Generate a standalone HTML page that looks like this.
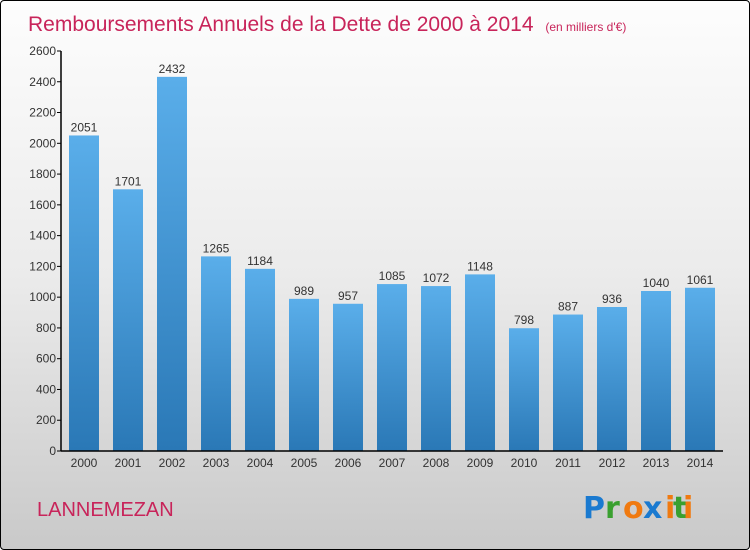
<!DOCTYPE html>
<html><head><meta charset="utf-8"><style>
body{margin:0;}
#wrap{width:750px;height:550px;position:relative;box-sizing:border-box;border:1px solid #000;border-radius:4px;overflow:hidden;background:linear-gradient(#fdfdfd,#ebebeb 50%,#c9c9c9);font-family:"Liberation Sans",sans-serif;}
</style></head><body>
<div id="wrap">
<svg width="750" height="550" style="position:absolute;left:0;top:0" id="svg">
<defs><linearGradient id="bg" x1="0" y1="0" x2="0" y2="1"><stop offset="0" stop-color="#5aaeea"/><stop offset="1" stop-color="#2a78b6"/></linearGradient></defs>
<text x="27" y="30" font-size="21" fill="#c8245a">Remboursements Annuels de la Dette de 2000 à 2014 <tspan font-size="12" dx="6">(en milliers d'€)</tspan></text>
<text x="36" y="515" font-size="20" fill="#c8245a">LANNEMEZAN</text>
<g font-size="30" font-weight="bold" font-family="'DejaVu Sans',sans-serif">
<text x="582" y="517" fill="#1a7ad0">P</text><text x="604" y="517" fill="#3aa030">r</text><text x="622" y="517" fill="#f07a10">o</text><text x="642" y="517" fill="#1a7ad0">x</text><text x="664" y="517" fill="#f07a10">i</text><text x="672" y="517" fill="#3aa030">t</text><text x="682" y="517" fill="#f07a10">i</text>
</g>
<g id="plot"></g>
</svg>
</div>
<script>
const years=["2000","2001","2002","2003","2004","2005","2006","2007","2008","2009","2010","2011","2012","2013","2014"];
const values=[2051,1701,2432,1265,1184,989,957,1085,1072,1148,798,887,936,1040,1061];
const yTicks=[0,200,400,600,800,1000,1200,1400,1600,1800,2000,2200,2400,2600];
const ns="http://www.w3.org/2000/svg";
const g=document.getElementById('plot');
const y0=450,yTop=50,yMax=2600,x0=60,step=44,bw=30,first=83;
const yS=v=>y0-(v/yMax)*(y0-yTop);
const xS=i=>first+i*step;
function mk(t,a){const e=document.createElementNS(ns,t);for(const k in a)e.setAttribute(k,a[k]);g.appendChild(e);return e;}
yTicks.forEach(t=>{
 const l=mk('line',{x1:x0-4,x2:x0,y1:yS(t),y2:yS(t),stroke:'#000'});
 
 
 const tx=mk('text',{x:x0-5,y:yS(t)+4,'font-size':12,fill:'#333','text-anchor':'end'});
 tx.textContent=t;
 
 
});
values.forEach((v,i)=>{
 const r=mk('rect',{x:xS(i)-bw/2,y:yS(v),width:bw,height:y0-yS(v),fill:'url(#bg)'});
 
 
 const t=mk('text',{x:xS(i),y:yS(v)-4,'font-size':12,fill:'#333','text-anchor':'middle'});
 t.textContent=v;
 
 
 const xl=mk('text',{x:xS(i),y:y0+16,'font-size':12,fill:'#333','text-anchor':'middle'});
 xl.textContent=years[i];
 
 
});
const ya=mk('line',{x1:x0,x2:x0,y1:yTop,y2:y0,stroke:'#000','stroke-width':1.5});


const xa=mk('line',{x1:x0,x2:722,y1:y0,y2:y0,stroke:'#000','stroke-width':1.5});


</script>
</body></html>
